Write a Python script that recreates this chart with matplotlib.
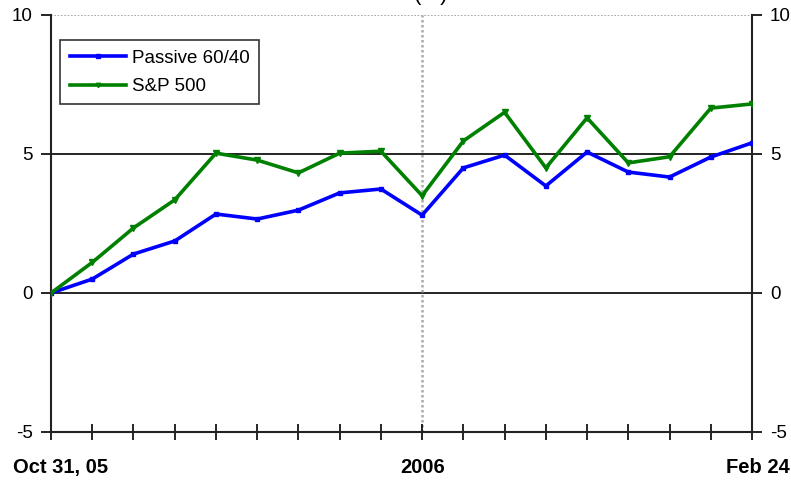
import numpy as np
import matplotlib.pyplot as plt
from matplotlib.transforms import offset_copy

plt.rcParams['font.family'] = ['Liberation Sans', 'DejaVu Sans']
plt.rcParams['axes.unicode_minus'] = False

# values (percent return since Oct 31, 05)
passive = [0.0, 0.5, 1.4, 1.87, 2.84, 2.66, 2.98, 3.6, 3.74, 2.8,
           4.5, 4.96, 3.85, 5.07, 4.35, 4.17, 4.89, 5.4]
sp500 = [0.0, 1.1, 2.34, 3.35, 5.03, 4.78, 4.32, 5.03, 5.1, 3.5,
         5.47, 6.5, 4.5, 6.3, 4.68, 4.9, 6.65, 6.8]
x_labels = ['Oct 31, 05', '2006', 'Feb 24']
x_label_pos = [0, 9, 17]
y_ticks = [-5, 0, 5, 10]


def main():
    fig = plt.figure(figsize=(7.91, 4.8), dpi=100)
    ax = fig.add_axes([0.0645, 0.1, 0.8862, 0.8688])
    x = np.arange(len(passive))

    # grid: solid black at 0 and 5, dotted grey at top, dotted grey at 2006
    for yv in [0, 5]:
        ax.axhline(yv, color='black', lw=1.2, zorder=1)
    ax.axhline(10, color='#999999', lw=1.2, ls=(0, (1, 1)), zorder=1)
    ax.axvline(x_label_pos[1], color='#aaaaaa', lw=1.8, ls=(0, (1, 1)), zorder=1)

    ax.plot(x, passive, color='#0000ff', lw=2.6, marker='s', ms=3.5,
            label='Passive 60/40', zorder=3)
    ax.plot(x, sp500, color='#008000', lw=2.6, marker='v', ms=4,
            label='S&P 500', zorder=3)

    ax.set_xlim(0, len(passive) - 1)
    ax.set_ylim(-5, 10)
    ax.set_yticks(y_ticks)
    ax.tick_params(axis='y', which='both', direction='out', length=7, width=1.2,
                   labelsize=13.5, left=True, right=True, labelleft=True,
                   labelright=True, pad=6)
    ax.set_xticks(x, minor=True)
    ax.set_xticks(x_label_pos)
    ax.set_xticklabels(x_labels, fontsize=14.5, fontweight='bold')
    ax.tick_params(axis='x', which='both', direction='inout', length=12, width=1.2,
                   pad=13)
    labs = ax.get_xticklabels()
    labs[0].set_transform(offset_copy(labs[0].get_transform(), fig=fig, x=7, units='points'))
    labs[2].set_ha('right')
    labs[2].set_transform(offset_copy(labs[2].get_transform(), fig=fig, x=27, units='points'))

    for s in ['left', 'right', 'bottom']:
        ax.spines[s].set_linewidth(1.5)
        ax.spines[s].set_color('#222222')
    ax.spines['top'].set_visible(False)

    leg = ax.legend(loc='upper left', bbox_to_anchor=(0.0, 0.962), fontsize=13.5,
                    frameon=True, fancybox=False, edgecolor='black',
                    handlelength=3.0, handletextpad=0.3, borderpad=0.5,
                    labelspacing=0.6, markerscale=0.8)
    leg.get_frame().set_linewidth(1.2)

    # cut-off title fragment at the top
    fig.text(0.545, 1.012, '(%)', fontsize=16, ha='center', va='center')

    fig.savefig('out.png', dpi=100)


if __name__ == '__main__':
    main()
